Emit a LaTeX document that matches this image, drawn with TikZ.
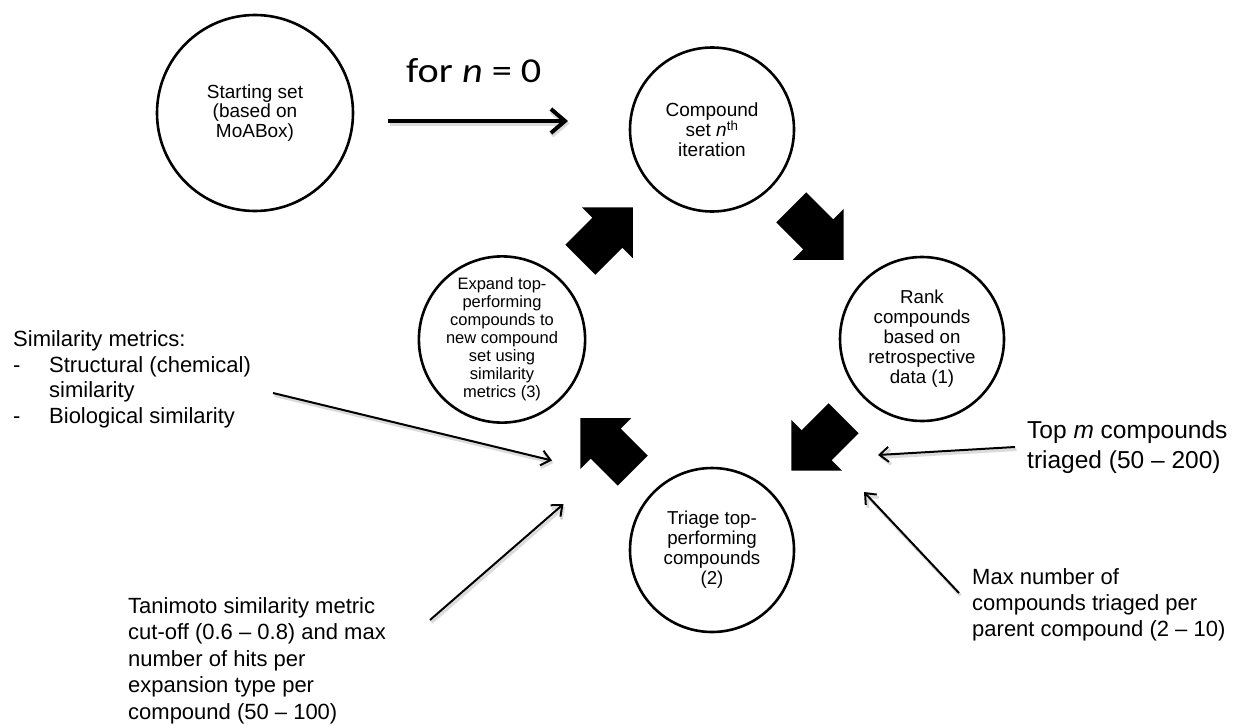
\documentclass[tikz,border=0pt]{standalone}
\usepackage{fontspec}
\setmainfont{Liberation Sans}
\newfontfamily\calfont[FakeStretch=1.15]{Carlito}
\usetikzlibrary{arrows.meta}
\begin{document}
\begin{tikzpicture}[x=1pt,y=-1pt,
  stage/.style={circle, draw, line width=2.6pt, minimum size=164pt, inner sep=0pt, align=center,
    font=\fontsize{19}{19.5}\selectfont},
  blockarrow/.style={fill=black},
  shadowed/.style={preaction={draw=black!14, line width=#1, transform canvas={shift={(1.5,2.5)}}}},
  thinarrow/.style={line width=2pt, shadowed=3pt, -{Straight Barb[length=9pt,width=15pt]}},
  bigarrow/.style={line width=4pt, shadowed=5pt, -{Straight Barb[length=14pt,width=24pt]}},
  note/.style={anchor=base west, inner sep=0pt, align=left}]
\useasboundingbox (0,0) rectangle (1238,725);
% circles
\node[stage, minimum size=196pt] (start) at (255,113) {Starting set\\(based on\\MoABox)};
\node[stage] (comp) at (712,129.5) {Compound\\set \textit{n}\textsuperscript{th}\\iteration};
\node[stage, font=\fontsize{18.7}{20}\selectfont] (rank) at (922,339) {Rank\\compounds\\based on\\retrospective\\data (1)};
\node[stage, font=\fontsize{18.7}{20}\selectfont] (triage) at (712,550) {Triage top-\\performing\\compounds\\(2)};
\node[stage, font=\fontsize{16.5}{18}\selectfont] (expand) at (502,339.5) {Expand top-\\performing\\compounds to\\new compound\\set using\\similarity\\metrics (3)};
% block arrows of the cycle
\foreach \cx/\cy/\ang in {606.6/233.6/45, 817.4/233.6/-45, 817.4/444.4/-135, 606.6/444.4/135}{
  \fill[blockarrow, shift={(\cx,\cy)}, rotate=\ang]
    (-37,-21.2) -- (1.2,-21.2) -- (1.2,-35.8) -- (37,0) -- (1.2,35.8) -- (1.2,21.2) -- (-37,21.2) -- cycle;
}
% for n = 0
\node[anchor=base west, inner sep=0pt, font=\calfont\fontsize{35}{35}\selectfont] (forlbl) at (406,82) {for \textit{n} = 0};
\coordinate (forS) at (388,121);
\coordinate (forE) at (568,121);
\draw[bigarrow] (forS) -- (forE);
% notes (anchored at the baseline of their last line)
\node[note, font=\fontsize{22}{25.5}\selectfont] (simtxt) at (13,423.2)
  {Similarity metrics:\\\makebox[36pt][l]{-}Structural (chemical)\\\hspace*{36pt}similarity\\\makebox[36pt][l]{-}Biological similarity};
\node[note, font=\fontsize{22}{26.5}\selectfont] (tanitxt) at (128,719)
  {Tanimoto similarity metric\\cut-off (0.6 – 0.8) and max\\number of hits per\\expansion type per\\compound (50 – 100)};
\node[note, font=\fontsize{24.5}{30}\selectfont] (toptxt) at (1027,468)
  {Top \textit{m} compounds\\triaged (50 – 200)};
\node[note, font=\fontsize{22}{26}\selectfont] (maxtxt) at (972,636)
  {Max number of\\compounds triaged per\\parent compound (2 – 10)};
% note arrows
\coordinate (simS) at (273,393);
\coordinate (simE) at (552,460.5);
\coordinate (taniS) at (430,620);
\coordinate (taniE) at (563.5,504);
\coordinate (topS) at (1015,447);
\coordinate (topE) at (878,455);
\coordinate (maxS) at (959,593);
\coordinate (maxE) at (864,492);
\draw[thinarrow] (simS) -- (simE);
\draw[thinarrow] (taniS) -- (taniE);
\draw[thinarrow] (topS) -- (topE);
\draw[thinarrow] (maxS) -- (maxE);
\end{tikzpicture}
\end{document}
